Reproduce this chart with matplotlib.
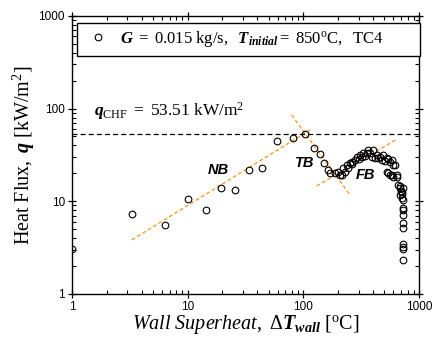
import numpy as np
import matplotlib.pyplot as plt
from matplotlib.lines import Line2D

plt.rcParams['mathtext.fontset'] = 'custom'
plt.rcParams['mathtext.rm'] = 'Liberation Serif'
plt.rcParams['mathtext.it'] = 'Liberation Serif:italic'
plt.rcParams['mathtext.bf'] = 'Liberation Serif:italic:bold'

# measured points (wall superheat [C], heat flux [kW/m2])
dT = [1.0, 3.32, 6.33, 10.0, 14.3, 19.3, 25.6, 33.7, 43.9, 59.1, 80.8, 103,
      123.5, 140, 151.6, 164.1, 169.8, 187.6, 200.3, 208, 214.3, 221.2, 230,
      236.7, 245, 252.8, 261.4, 265, 279.3, 288.8, 300, 308.4, 320, 329.4,
      340, 352.4, 364, 376.5, 389, 402, 415.6, 430, 445, 459, 480, 491, 510,
      525, 540, 560, 580, 599, 619, 525, 542, 560, 580, 599, 640, 640, 661,
      684, 690, 700, 707, 715, 720, 684, 707, 721, 730, 721, 730, 730, 730,
      730, 730, 730, 730]
q = [3.06, 7.24, 5.55, 10.5, 8.0, 13.9, 13.3, 21.8, 23.0, 45.0, 48.5, 53.6,
     37.3, 32.6, 25.9, 21.8, 20.0, 20.0, 20.9, 19.2, 19.2, 22.7, 20.9,
     24.6, 23.0, 25.7, 26.8, 25.0, 27.9, 30.3, 28.5, 31.6, 30.0, 32.9,
     31.0, 32.9, 35.7, 32.9, 30.3, 35.8, 29.1, 31.6, 29.1, 30.3, 28.0, 31.6,
     27.0, 29.1, 28.5, 26.8, 27.9, 24.6, 24.6, 20.9, 20.0, 19.2, 19.2, 18.4,
     19.2, 18.4, 15.0, 13.8, 14.5, 13.0, 12.7, 12.0, 14.0, 11.7, 10.8, 10.3,
     8.4, 8.06, 7.1, 5.8, 5.1, 3.46, 3.24, 3.03, 2.33]

# regime fit lines (end points)
nb_x = [3.3, 114]
nb_y = [3.83, 58.8]
tb_x = [79.2, 253]
tb_y = [85.3, 11.7]
fb_x = [130, 640]
fb_y = [14.6, 46.6]
q_chf = 53.51

fig = plt.figure(figsize=(4.33, 3.45), dpi=100)
ax = fig.add_axes([0.166, 0.148, 0.802, 0.806])

orange = '#f7941d'
ax.plot(nb_x, nb_y, '--', color=orange, lw=0.9, dashes=(3, 2))
ax.plot(tb_x, tb_y, '--', color=orange, lw=0.9, dashes=(3, 2))
ax.plot(fb_x, fb_y, '--', color=orange, lw=0.9, dashes=(3, 2))
ax.axhline(q_chf, color='k', ls='--', lw=0.9, dashes=(4, 2.5))

ax.plot(dT, q, 'o', mfc='none', mec='k', ms=4.8, mew=0.8)

ax.set_xscale('log')
ax.set_yscale('log')
ax.set_xlim(1, 1000)
ax.set_ylim(1, 1000)
ax.set_xticks([1, 10, 100, 1000])
ax.set_xticklabels(['1', '10', '100', '1000'])
ax.set_yticks([1, 10, 100, 1000])
ax.set_yticklabels(['1', '10', '100', '1000'])
for lab in ax.get_xticklabels() + ax.get_yticklabels():
    lab.set_family('Liberation Sans')
    lab.set_fontsize(8.5)
ax.tick_params(which='major', direction='inout', length=6, width=0.9,
               top=True, right=True, pad=2)
ax.tick_params(which='minor', direction='in', length=3, width=0.8,
               top=True, right=True)
for s in ax.spines.values():
    s.set_linewidth(1.0)

ax.set_xlabel(r'$\mathit{Wall\ Superheat,}\ \Delta\mathbf{T}_{\mathbf{wall}}\ [^{\rm o}\mathrm{C}]$',
              fontsize=14.5, labelpad=0)
ax.set_ylabel(r'$\mathrm{Heat\ Flux,}\ \mathbf{q}\ [\mathrm{kW/m}^{2}]$',
              fontsize=14.5, labelpad=1)

ax.text(1.55, 72, r'$\mathbf{q}_{\mathrm{CHF}}\ =\ 53.51\ \mathrm{kW/m}^{2}$',
        fontsize=12.5, va='bottom')

ax.text(18.4, 21.8, 'NB', fontsize=10.5, fontweight='bold', style='italic',
        family='Liberation Sans', ha='center', va='center')
ax.text(103, 26, 'TB', fontsize=10.5, fontweight='bold', style='italic',
        family='Liberation Sans', ha='center', va='center')
ax.text(341, 19.2, 'FB', fontsize=10.5, fontweight='bold', style='italic',
        family='Liberation Sans', ha='center', va='center')

h = Line2D([], [], ls='none', marker='o', mfc='none', mec='k', ms=4.8, mew=0.8)
leg = ax.legend([h], [r'$\mathbf{G}\ \mathrm{=\ 0.015\ kg/s,}\ \ \mathbf{T}_{\mathbf{initial}}\mathrm{=\ 850^{o}C,\ \ TC4}$'],
                loc='upper left', bbox_to_anchor=(0.0135, 0.976, 0.99, 0.0),
                mode='expand', borderaxespad=0, fancybox=False, edgecolor='k',
                framealpha=1, fontsize=12, handletextpad=0.4, handlelength=1.8,
                borderpad=0.4)
leg.get_frame().set_linewidth(1.0)

fig.savefig('out.png', dpi=100)
